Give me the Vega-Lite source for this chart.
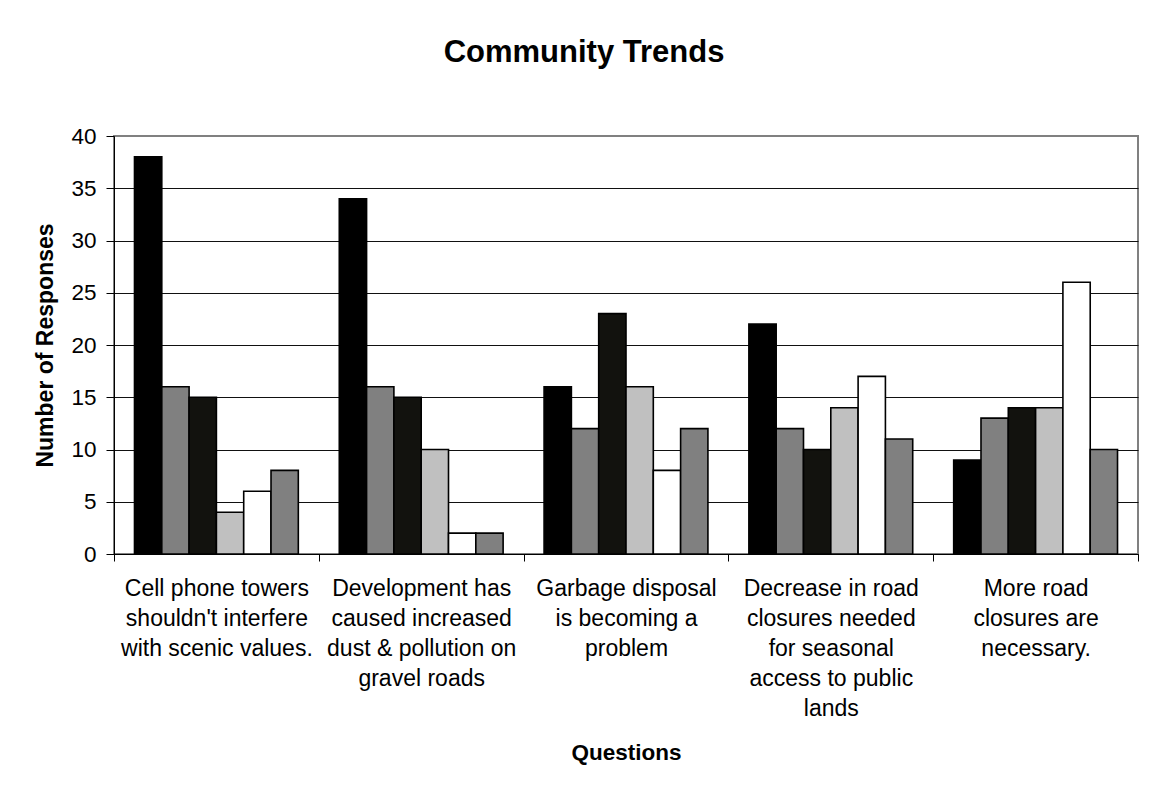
{
  "$schema": "https://vega.github.io/schema/vega-lite/v6.json",
  "width": 1024,
  "height": 418,
  "autosize": {"type": "none"},
  "padding": {"left": 114, "top": 136, "right": 23, "bottom": 232},
  "background": "#ffffff",
  "title": {
    "text": "Community Trends",
    "font": "Liberation Sans",
    "fontSize": 31,
    "fontWeight": "bold",
    "color": "#000000",
    "anchor": "middle",
    "frame": "group",
    "dx": -42,
    "offset": 56
  },
  "data": {
    "values": [
      {"question": "Cell phone towers|shouldn't interfere|with scenic values.", "series": "Series 1", "responses": 38},
      {"question": "Cell phone towers|shouldn't interfere|with scenic values.", "series": "Series 2", "responses": 16},
      {"question": "Cell phone towers|shouldn't interfere|with scenic values.", "series": "Series 3", "responses": 15},
      {"question": "Cell phone towers|shouldn't interfere|with scenic values.", "series": "Series 4", "responses": 4},
      {"question": "Cell phone towers|shouldn't interfere|with scenic values.", "series": "Series 5", "responses": 6},
      {"question": "Cell phone towers|shouldn't interfere|with scenic values.", "series": "Series 6", "responses": 8},
      {"question": "Development has|caused increased|dust & pollution on|gravel roads", "series": "Series 1", "responses": 34},
      {"question": "Development has|caused increased|dust & pollution on|gravel roads", "series": "Series 2", "responses": 16},
      {"question": "Development has|caused increased|dust & pollution on|gravel roads", "series": "Series 3", "responses": 15},
      {"question": "Development has|caused increased|dust & pollution on|gravel roads", "series": "Series 4", "responses": 10},
      {"question": "Development has|caused increased|dust & pollution on|gravel roads", "series": "Series 5", "responses": 2},
      {"question": "Development has|caused increased|dust & pollution on|gravel roads", "series": "Series 6", "responses": 2},
      {"question": "Garbage disposal|is becoming a|problem", "series": "Series 1", "responses": 16},
      {"question": "Garbage disposal|is becoming a|problem", "series": "Series 2", "responses": 12},
      {"question": "Garbage disposal|is becoming a|problem", "series": "Series 3", "responses": 23},
      {"question": "Garbage disposal|is becoming a|problem", "series": "Series 4", "responses": 16},
      {"question": "Garbage disposal|is becoming a|problem", "series": "Series 5", "responses": 8},
      {"question": "Garbage disposal|is becoming a|problem", "series": "Series 6", "responses": 12},
      {"question": "Decrease in road|closures needed|for seasonal|access to public|lands", "series": "Series 1", "responses": 22},
      {"question": "Decrease in road|closures needed|for seasonal|access to public|lands", "series": "Series 2", "responses": 12},
      {"question": "Decrease in road|closures needed|for seasonal|access to public|lands", "series": "Series 3", "responses": 10},
      {"question": "Decrease in road|closures needed|for seasonal|access to public|lands", "series": "Series 4", "responses": 14},
      {"question": "Decrease in road|closures needed|for seasonal|access to public|lands", "series": "Series 5", "responses": 17},
      {"question": "Decrease in road|closures needed|for seasonal|access to public|lands", "series": "Series 6", "responses": 11},
      {"question": "More road|closures are|necessary.", "series": "Series 1", "responses": 9},
      {"question": "More road|closures are|necessary.", "series": "Series 2", "responses": 13},
      {"question": "More road|closures are|necessary.", "series": "Series 3", "responses": 14},
      {"question": "More road|closures are|necessary.", "series": "Series 4", "responses": 14},
      {"question": "More road|closures are|necessary.", "series": "Series 5", "responses": 26},
      {"question": "More road|closures are|necessary.", "series": "Series 6", "responses": 10}
    ]
  },
  "mark": {"type": "bar", "stroke": "#000000", "strokeWidth": 1.6},
  "encoding": {
    "x": {
      "field": "question",
      "type": "nominal",
      "sort": null,
      "scale": {"paddingInner": 0, "paddingOuter": 0},
      "axis": {
        "title": "Questions",
        "titleFont": "Liberation Sans",
        "titleFontSize": 22.5,
        "titleFontWeight": "bold",
        "titleColor": "#000000",
        "titlePadding": 21,
        "labelExpr": "split(datum.label, '|')",
        "labelAngle": 0,
        "labelFont": "Liberation Sans",
        "labelFontSize": 23,
        "labelLineHeight": 30,
        "labelColor": "#000000",
        "labelLimit": 0,
        "labelPadding": 16,
        "labelBaseline": "top",
        "tickBand": "extent",
        "tickSize": 7,
        "tickColor": "#000000",
        "domainColor": "#000000",
        "domainWidth": 1,
        "grid": false
      }
    },
    "xOffset": {
      "field": "series",
      "type": "nominal",
      "scale": {"paddingInner": 0, "paddingOuter": 0.75}
    },
    "y": {
      "field": "responses",
      "type": "quantitative",
      "scale": {"domain": [0, 40], "nice": false},
      "axis": {
        "title": "Number of Responses",
        "titleFont": "Liberation Sans",
        "titleFontSize": 23,
        "titleFontWeight": "bold",
        "titleColor": "#000000",
        "titlePadding": 13,
        "values": [0, 5, 10, 15, 20, 25, 30, 35, 40],
        "labelFont": "Liberation Sans",
        "labelFontSize": 22.5,
        "labelColor": "#000000",
        "labelPadding": 10,
        "tickSize": 8,
        "tickColor": "#000000",
        "domainColor": "#000000",
        "domainWidth": 1,
        "grid": true,
        "gridColor": {"condition": {"test": "datum.value === 40", "value": "#808080"}, "value": "#111111"},
        "gridWidth": 1.2
      }
    },
    "color": {
      "field": "series",
      "type": "nominal",
      "scale": {
        "domain": ["Series 1", "Series 2", "Series 3", "Series 4", "Series 5", "Series 6"],
        "range": ["#000000", "#808080", "#12120e", "#c0c0c0", "#ffffff", "#808080"]
      },
      "legend": null
    }
  },
  "config": {
    "view": {"stroke": "#808080", "strokeWidth": 2},
    "bar": {"opacity": 1}
  }
}
